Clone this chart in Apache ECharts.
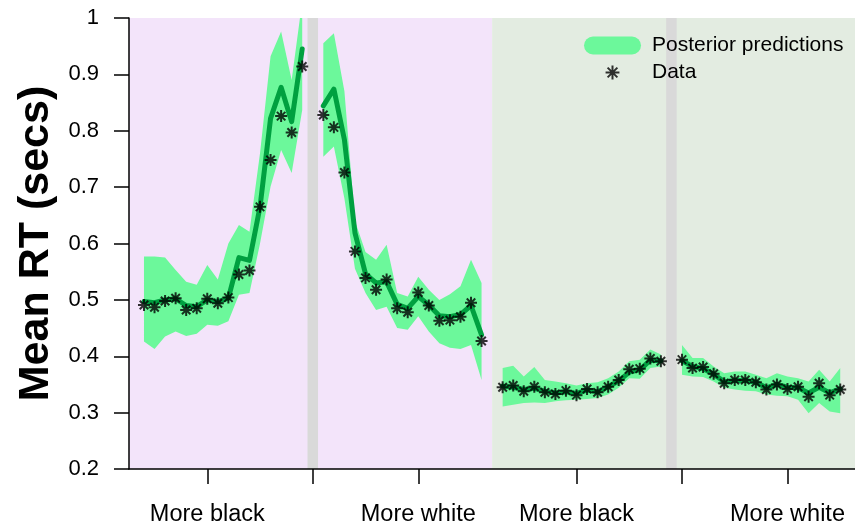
<!DOCTYPE html>
<html>
<head>
<meta charset="utf-8">
<script src="https://cdn.jsdelivr.net/npm/echarts@6/dist/echarts.min.js"></script>
<style>
  html, body { margin: 0; padding: 0; background: #ffffff; }
  #chart { width: 855px; height: 532px; }
</style>
</head>
<body>
<div id="chart"></div>
<script>
// Mean response times per stimulus level; two panels of 33 slots each,
// the middle slot (index 16) of each panel is the empty ambiguous level.
const panelA_data = [0.491,0.487,0.498,0.503,0.482,0.485,0.502,0.494,0.504,0.545,0.552,0.665,0.748,0.826,0.797,0.914, null,
                     0.828,0.806,0.726,0.586,0.539,0.518,0.536,0.485,0.478,0.513,0.490,0.463,0.464,0.470,0.495,0.427];
const panelA_mean = [0.497,0.495,0.500,0.502,0.490,0.488,0.500,0.497,0.503,0.575,0.570,0.665,0.822,0.877,0.816,0.945, null,
                     0.844,0.874,0.784,0.619,0.546,0.530,0.532,0.492,0.485,0.506,0.491,0.472,0.470,0.474,0.490,0.438];
const panelA_hi   = [0.577,0.577,0.575,0.553,0.532,0.527,0.562,0.536,0.600,0.633,0.621,0.760,0.932,0.976,0.890,1.030, null,
                     0.955,0.973,0.870,0.640,0.585,0.571,0.598,0.512,0.506,0.541,0.518,0.500,0.510,0.524,0.571,0.530];
const panelA_lo   = [0.426,0.413,0.435,0.444,0.436,0.440,0.456,0.454,0.462,0.509,0.512,0.600,0.701,0.766,0.725,0.837, null,
                     0.754,0.772,0.680,0.555,0.512,0.482,0.488,0.450,0.447,0.471,0.444,0.423,0.415,0.413,0.420,0.358];

const panelB_data = [0.345,0.348,0.338,0.346,0.336,0.333,0.339,0.331,0.342,0.336,0.346,0.358,0.377,0.378,0.396,0.391, null,
                     0.394,0.379,0.381,0.369,0.352,0.358,0.358,0.354,0.341,0.350,0.342,0.346,0.328,0.352,0.331,0.341];
const panelB_mean = [0.347,0.345,0.341,0.343,0.338,0.335,0.337,0.334,0.340,0.337,0.346,0.356,0.372,0.376,0.393,0.392, null,
                     0.392,0.382,0.378,0.368,0.355,0.357,0.357,0.354,0.344,0.350,0.345,0.344,0.335,0.345,0.335,0.342];
const panelB_hi   = [0.379,0.383,0.364,0.381,0.358,0.355,0.352,0.348,0.352,0.354,0.361,0.373,0.391,0.394,0.412,0.403, null,
                     0.420,0.397,0.397,0.382,0.370,0.373,0.373,0.367,0.361,0.370,0.364,0.361,0.355,0.376,0.355,0.379];
const panelB_lo   = [0.311,0.314,0.317,0.318,0.317,0.320,0.322,0.323,0.324,0.326,0.332,0.344,0.361,0.360,0.379,0.382, null,
                     0.367,0.364,0.363,0.355,0.344,0.341,0.339,0.338,0.332,0.330,0.329,0.323,0.299,0.317,0.302,0.299];

const tickLabels = ['More black', 'More white', 'More black', 'More white'];
const legendNames = ['Posterior predictions', 'Data'];
const yTitle = 'Mean RT (secs)';

// ---- layout ----
const FONT = '"Liberation Sans", Arial, Helvetica, sans-serif';
const X_MIN = -1.42, X_MAX = 67.4;
const Y_MIN = 0.2, Y_MAX = 1.0;
const PANEL_OFFSET = [0, 34];          // first slot of each panel on the x scale
const MID_SLOT = 16;
const tickValues = [6, 16, 26, 41, 51, 61];
const labelValues = [6, 26, 41, 61];

const BAND = '#6cf89b';
const LINE = '#00a040';
const BG_A = '#f3e4fa';
const BG_B = '#e3ece1';
const GRAY = '#d9d9d9';

const panels = [
  { data: panelA_data, mean: panelA_mean, hi: panelA_hi, lo: panelA_lo },
  { data: panelB_data, mean: panelB_mean, hi: panelB_hi, lo: panelB_lo }
];

// background regions: [x0, x1, colour]
const regions = [
  [X_MIN, PANEL_OFFSET[1] - 1, BG_A],
  [PANEL_OFFSET[1] - 1, X_MAX, BG_B],
  [PANEL_OFFSET[0] + MID_SLOT - 0.5, PANEL_OFFSET[0] + MID_SLOT + 0.5, GRAY],
  [PANEL_OFFSET[1] + MID_SLOT - 0.5, PANEL_OFFSET[1] + MID_SLOT + 0.5, GRAY]
];

// points for line and scatter, with breaks between segments
const meanPts = [], dataPts = [];
panels.forEach((p, k) => {
  if (k > 0) meanPts.push([PANEL_OFFSET[k] - 1, '-']);
  p.mean.forEach((v, i) => meanPts.push([PANEL_OFFSET[k] + i, v == null ? '-' : v]));
  p.data.forEach((v, i) => { if (v != null) dataPts.push([PANEL_OFFSET[k] + i, v]); });
});

// band segments: [panel, firstSlot, lastSlot]
const segments = [];
panels.forEach((p, k) => {
  segments.push([k, 0, MID_SLOT - 1]);
  segments.push([k, MID_SLOT + 1, p.mean.length - 1]);
});

const ASTERISK = 'path://M0,-1L0,1M-1,0L1,0M-0.707,-0.707L0.707,0.707M-0.707,0.707L0.707,-0.707';
const ASTERISK_LEGEND = 'path://M-1.3,-1.3M1.3,1.3M0,-1L0,1M-1,0L1,0M-0.707,-0.707L0.707,0.707M-0.707,0.707L0.707,-0.707';
const PILL = 'path://M9,0L48,0A9,9 0 0 1 48,18L9,18A9,9 0 0 1 9,0Z';

const chart = echarts.init(document.getElementById('chart'), null, { renderer: 'canvas' });

chart.setOption({
  animation: false,
  backgroundColor: '#ffffff',
  grid: { left: 129, right: 0, top: 18, bottom: 63, containLabel: false },
  xAxis: {
    type: 'value', min: X_MIN, max: X_MAX,
    axisLine: { show: true, onZero: false, lineStyle: { color: '#000', width: 1.5 } },
    axisTick: { show: true, customValues: tickValues, length: 15, lineStyle: { color: '#000', width: 1.5 } },
    axisLabel: {
      show: true, customValues: labelValues, margin: 34,
      fontSize: 23.5, fontFamily: FONT, color: '#000',
      formatter: v => tickLabels[labelValues.indexOf(Math.round(v))] || ''
    },
    splitLine: { show: false }
  },
  yAxis: {
    type: 'value', min: Y_MIN, max: Y_MAX, interval: 0.1,
    axisLine: { show: true, onZero: false, lineStyle: { color: '#000', width: 1.5 } },
    axisTick: { show: true, length: 15, lineStyle: { color: '#000', width: 1.5 } },
    axisLabel: {
      fontSize: 22, fontFamily: FONT, color: '#000', margin: 30,
      formatter: v => String(+(+v).toFixed(1))
    },
    splitLine: { show: false },
    name: yTitle, nameLocation: 'middle', nameGap: 68,
    nameTextStyle: { fontSize: 43, fontWeight: 'bold', fontFamily: FONT, color: '#000' }
  },
  legend: {
    orient: 'vertical', left: 584, top: 35, padding: 0, itemGap: 6,
    itemWidth: 57, itemHeight: 18, selectedMode: false,
    textStyle: { fontSize: 21, fontFamily: FONT, color: '#000', padding: [0, 0, 0, 6] },
    data: [
      { name: legendNames[0], icon: PILL, itemStyle: { color: BAND } },
      { name: legendNames[1], icon: ASTERISK_LEGEND }
    ]
  },
  series: [
    {
      type: 'custom', name: 'regions', z: 0, silent: true, clip: true,
      data: regions.map((r, i) => [r[0], r[1], i]),
      renderItem: (params, api) => {
        const p0 = api.coord([api.value(0), Y_MAX]);
        const p1 = api.coord([api.value(1), Y_MIN]);
        return {
          type: 'rect',
          shape: { x: p0[0], y: p0[1], width: p1[0] - p0[0], height: p1[1] - p0[1] },
          style: { fill: regions[api.value(2)][2] }
        };
      }
    },
    {
      type: 'custom', name: legendNames[0], z: 1, silent: true, clip: true,
      itemStyle: { color: BAND },
      data: segments,
      renderItem: (params, api) => {
        const k = api.value(0), a = api.value(1), b = api.value(2);
        const p = panels[k], off = PANEL_OFFSET[k];
        const pts = [];
        for (let i = a; i <= b; i++) pts.push(api.coord([off + i, p.hi[i]]));
        for (let i = b; i >= a; i--) pts.push(api.coord([off + i, p.lo[i]]));
        return { type: 'polygon', shape: { points: pts }, style: { fill: BAND } };
      }
    },
    {
      type: 'line', name: 'mean', z: 2, silent: true,
      data: meanPts, connectNulls: false, showSymbol: false, symbol: 'none',
      lineStyle: { color: LINE, width: 5, cap: 'round', join: 'round' }
    },
    {
      type: 'scatter', name: legendNames[1], z: 3, silent: true,
      data: dataPts, symbol: ASTERISK, symbolSize: 12,
      itemStyle: { color: '#000', borderColor: '#000', borderWidth: 2 }
    }
  ]
});
</script>
</body>
</html>
